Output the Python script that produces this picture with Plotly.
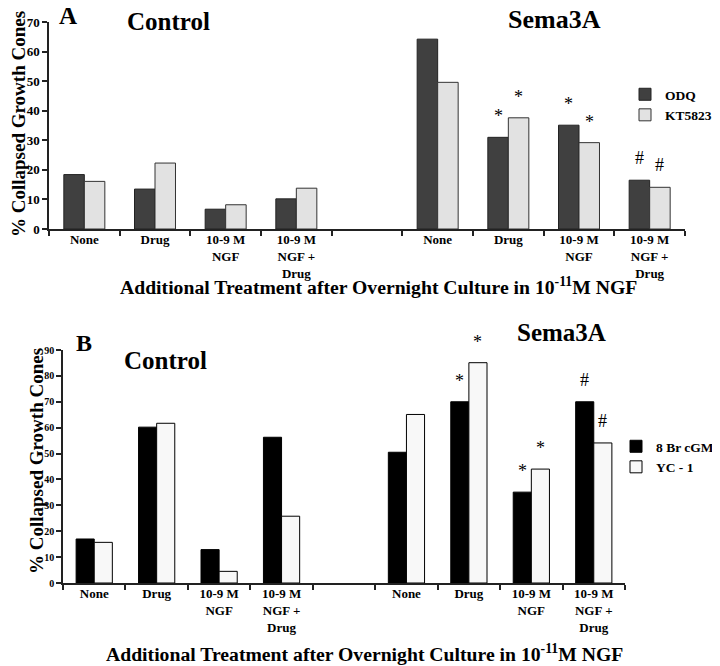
import plotly.graph_objects as go

# ---------------- data ----------------
categories = ["None", "Drug", "10-9 M<br>NGF", "10-9 M<br>NGF +<br>Drug", " ",
              "None", "Drug", "10-9 M<br>NGF", "10-9 M<br>NGF +<br>Drug"]
group_titles = ["Control", "Sema3A"]
x_title = "Additional Treatment after Overnight Culture in 10<sup>-11</sup>M NGF"
y_title = "% Collapsed Growth Cones"

# Panel A
series_a_names = ["ODQ", "KT5823"]
odq = [18.4, 13.5, 6.7, 10.2, None, 64.2, 31.0, 35.1, 16.5]
kt5823 = [16.1, 22.3, 8.2, 13.8, None, 49.6, 37.6, 29.2, 14.1]
odq_sig = ["", "", "", "", "", "", "*", "*", "#"]
kt5823_sig = ["", "", "", "", "", "", "*", "*", "#"]
yticks_a = [0, 10, 20, 30, 40, 50, 60, 70]

# Panel B
series_b_names = ["8 Br cGMP", "YC - 1"]
br_cgmp = [17.0, 60.2, 12.9, 56.3, None, 50.5, 70.0, 35.1, 70.0]
yc1 = [15.7, 61.7, 4.5, 25.8, None, 65.1, 85.1, 44.0, 54.1]
br_cgmp_sig = ["", "", "", "", "", "", "*", "*", "#"]
yc1_sig = ["", "", "", "", "", "", "*", "*", "#"]
yticks_b = [0, 10, 20, 30, 40, 50, 60, 70, 80, 90]

# ---------------- style ----------------
FONT = "Liberation Serif"
BW = 0.29
pos = list(range(len(categories)))

fig = go.Figure()


def add_pair(vals1, vals2, names, colors, lines, xa, ya, legend):
    fig.add_trace(go.Bar(x=pos, y=vals1, name=names[0], width=BW, offset=-BW,
                         marker=dict(color=colors[0], line=dict(color=lines[0], width=1)),
                         xaxis=xa, yaxis=ya, legend=legend))
    fig.add_trace(go.Bar(x=pos, y=vals2, name=names[1], width=BW, offset=0,
                         marker=dict(color=colors[1], line=dict(color=lines[1], width=1)),
                         xaxis=xa, yaxis=ya, legend=legend))


add_pair(odq, kt5823, series_a_names, ["#404040", "#e2e2e2"], ["#222222", "#333333"],
         "x", "y", "legend")
add_pair(br_cgmp, yc1, series_b_names, ["#000000", "#f8f8f8"], ["#000000", "#000000"],
         "x2", "y2", "legend2")

annotations = []


def add_sig(vals, sigs, shift, xref, yref):
    for i, (v, s) in enumerate(zip(vals, sigs)):
        if s and v is not None:
            annotations.append(dict(
                x=i + shift, y=v, xref=xref, yref=yref, text=s, showarrow=False,
                yanchor="middle", xanchor="center",
                yshift=21 if s == "*" else 22,
                font=dict(family=FONT, size=18, color="black", weight="normal")))


add_sig(odq, odq_sig, -BW / 2, "x", "y")
add_sig(kt5823, kt5823_sig, BW / 2, "x", "y")
add_sig(br_cgmp, br_cgmp_sig, -BW / 2, "x2", "y2")
add_sig(yc1, yc1_sig, BW / 2, "x2", "y2")


def txt(text, x, y, size, angle=0):
    annotations.append(dict(text=text, x=x, y=y, xref="paper", yref="paper",
                            showarrow=False, xanchor="center", yanchor="middle",
                            textangle=angle,
                            font=dict(family=FONT, size=size, color="black", weight="bold")))


H = 666.0
W = 720.0
# panel A texts
txt("A", 60 / W, 1 - 8 / H, 25)
txt(group_titles[0], 160 / W, 1 - 14 / H, 25)
txt(group_titles[1], 546 / W, 1 - 11 / H, 26)
txt(y_title, 11 / W, 1 - 116 / H, 19, -90)
txt(x_title, 371 / W, 1 - 278 / H, 19.7)
# panel B texts
txt("B", 76 / W, 1 - 335 / H, 24)
txt(group_titles[0], 157 / W, 1 - 352 / H, 25)
txt(group_titles[1], 553 / W, 1 - 324 / H, 25)
txt(y_title, 28 / W, 1 - 453 / H, 19, -90)
txt(x_title, 356 / W, 1 - 645 / H, 19.7)

axis_common = dict(showline=True, linecolor="#222222", linewidth=1.5, showgrid=False,
                   zeroline=False)

xa_common = dict(axis_common, tickmode="array", tickvals=pos, ticktext=categories,
                 range=[-0.5, len(categories) - 0.5], ticks="",
                 minor=dict(tick0=-0.5, dtick=1, ticks="outside", ticklen=5,
                            tickcolor="#222222", tickwidth=1.5),
                 tickangle=0, ticklabelstandoff=-2)

fig.update_layout(
    width=720, height=666,
    margin=dict(l=0, r=0, t=0, b=0, autoexpand=False),
    paper_bgcolor="white", plot_bgcolor="white",
    font=dict(family=FONT, color="black", weight="bold"),
    barmode="overlay",
    xaxis=dict(xa_common, domain=[41 / W, 677 / W], anchor="y",
               tickfont=dict(size=13, family=FONT, weight="bold")),
    yaxis=dict(axis_common, domain=[1 - 221 / H, 1 - 14 / H], anchor="x",
               range=[0, 70], tickvals=yticks_a, ticks="outside", ticklen=5,
               tickcolor="#222222", tickwidth=1.5,
               tickfont=dict(size=13, family=FONT, weight="bold")),
    xaxis2=dict(xa_common, domain=[55 / W, 617 / W], anchor="y2",
                tickfont=dict(size=13, family=FONT, weight="bold")),
    yaxis2=dict(axis_common, domain=[1 - 575 / H, 1 - 342 / H], anchor="x2",
                range=[0, 90], tickvals=yticks_b, ticks="outside", ticklen=5,
                tickcolor="#222222", tickwidth=1.5,
                tickfont=dict(size=10, family=FONT, weight="bold")),
    legend=dict(x=617 / W, y=1 - 71 / H, xanchor="left", yanchor="top",
                bgcolor="rgba(0,0,0,0)", tracegroupgap=0,
                font=dict(size=13.5, family=FONT, weight="bold")),
    legend2=dict(x=608 / W, y=1 - 423 / H, xanchor="left", yanchor="top",
                 bgcolor="rgba(0,0,0,0)", tracegroupgap=0,
                 font=dict(size=13.5, family=FONT, weight="bold")),
    annotations=annotations,
)

fig.write_html("out.html")
